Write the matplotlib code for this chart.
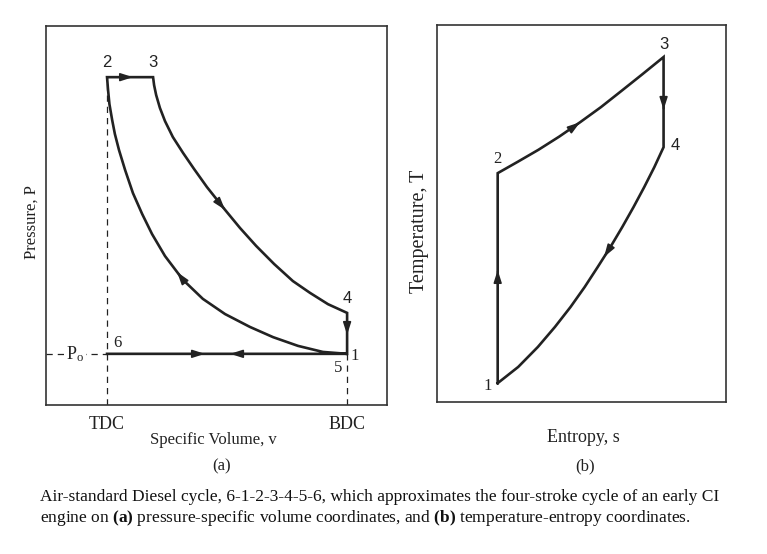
import matplotlib.pyplot as plt
import numpy as np

plt.rcParams['font.family'] = ['Liberation Serif', 'DejaVu Serif']
plt.rcParams['mathtext.fontset'] = 'custom'
plt.rcParams['mathtext.rm'] = 'Liberation Serif'
plt.rcParams['mathtext.it'] = 'Liberation Serif:italic'
plt.rcParams['mathtext.bf'] = 'Liberation Serif:bold'

INK = '#222222'

# ---- (a) pressure - specific volume, arbitrary units
v_tdc, v_bdc = 1.79, 8.83
p_high, p_o, p_4 = 8.65, 1.35, 2.43
# compression 1 -> 2
v_comp = [8.83, 8.12, 7.39, 6.66, 5.98, 5.25, 4.60, 4.02, 3.49, 3.11,
          2.82, 2.55, 2.32, 2.14, 2.02, 1.94, 1.86, 1.82, 1.79]
p_comp = [1.35, 1.40, 1.56, 1.79, 2.06, 2.40, 2.80, 3.30, 3.93, 4.51,
          5.04, 5.59, 6.20, 6.73, 7.15, 7.52, 7.94, 8.31, 8.65]
# expansion 3 -> 4
v_exp = [3.14, 3.17, 3.23, 3.34, 3.49, 3.72, 4.02, 4.34, 4.72, 5.25,
         5.69, 6.16, 6.69, 7.24, 7.74, 8.27, 8.83]
p_exp = [8.65, 8.44, 8.18, 7.84, 7.49, 7.07, 6.65, 6.23, 5.75, 5.15,
         4.67, 4.20, 3.72, 3.27, 2.96, 2.66, 2.43]

# ---- (b) temperature - entropy
s_1, T_1 = 2.10, 0.50
# 2 -> 3
s_23 = [2.10, 2.79, 3.51, 4.23, 4.95, 5.67, 6.38, 7.10, 7.84]
T_23 = [6.07, 6.37, 6.69, 7.04, 7.42, 7.82, 8.25, 8.69, 9.15]
# 4 -> 1
s_41 = [7.84, 7.52, 7.17, 6.80, 6.41, 6.00, 5.56, 5.11, 4.62, 4.08, 3.49, 2.81, 2.10]
T_41 = [6.76, 6.23, 5.70, 5.17, 4.64, 4.11, 3.58, 3.05, 2.52, 1.99, 1.46, 0.93, 0.50]

caption1 = ('Air-standard Diesel cycle, 6-1-2-3-4-5-6, which approximates '
            'the four-stroke cycle of an early CI')
caption2 = (r'engine on $\mathbf{(a)}$ pressure-specific volume coordinates, '
            r'and $\mathbf{(b)}$ temperature-entropy coordinates.')

ARROW = dict(arrowstyle='-|>,head_length=0.75,head_width=0.24', color=INK,
             lw=1.2, shrinkA=0, shrinkB=0)


def arrow_at(ax, x, y, dx, dy):
    ax.annotate('', xy=(x, y), xytext=(x - dx, y - dy), arrowprops=ARROW)


def arrow_on(ax, xs, ys, i, t=0.0):
    # arrowhead part way along segment i -> i+1, pointing along it
    dx = xs[i + 1] - xs[i]
    dy = ys[i + 1] - ys[i]
    x = xs[i] + t * dx
    y = ys[i] + t * dy
    arrow_at(ax, x, y, dx * 0.1, dy * 0.1)


def label(ax, txt, x, y, off, sans=False, **kw):
    fam = ['Liberation Sans'] if sans else ['Liberation Serif']
    ax.annotate(txt, (x, y), xytext=off, textcoords='offset pixels',
                ha='center', va='center', fontsize=12, family=fam,
                color=INK, **kw)


def frame(ax):
    ax.set_xlim(0, 10)
    ax.set_ylim(0, 10)
    for sp in ax.spines.values():
        sp.set_linewidth(1.2)
        sp.set_color('#333333')
    ax.tick_params(length=0)
    ax.set_yticks([])


fig = plt.figure(figsize=(7.67, 5.54), dpi=100)

# ------------------------------------------------------------------ (a)
ax = fig.add_axes([46 / 767, 1 - 405 / 554, 341 / 767, 379 / 554])
frame(ax)
dash = dict(color=INK, lw=0.9, ls=(0, (5, 4)))
ax.plot([v_tdc, v_tdc], [0, p_high], **dash)
ax.plot([v_bdc, v_bdc], [0, p_o], **dash)
ax.plot([0, v_tdc], [p_o, p_o], **dash)

xa = [v_tdc] + v_comp + v_exp + [v_bdc]
ya = [p_o] + p_comp + p_exp + [p_o]
ax.plot(xa, ya, color=INK, lw=1.9, solid_joinstyle='miter')

arrow_at(ax, 2.55, p_high, 0.05, 0)
arrow_on(ax, v_exp, p_exp, 9)
arrow_at(ax, v_bdc, 1.85, 0, -0.05)
arrow_on(ax, v_comp, p_comp, 7, 0.33)
arrow_at(ax, 4.66, p_o, 0.05, 0)
arrow_at(ax, 5.40, p_o, -0.05, 0)

label(ax, '2', v_tdc, p_high, (0, 15), sans=True)
label(ax, '3', v_exp[0], p_high, (0, 15), sans=True)
label(ax, '4', v_bdc, p_4, (0, 14), sans=True)
label(ax, '1', v_bdc, p_o, (8, -2))
label(ax, '5', v_bdc, p_o, (-9, -14))
label(ax, '6', v_tdc, p_o, (10, 11))
ax.text(0.85, p_o, r'P$_{\rm o}$', ha='center', va='center', fontsize=13,
        color=INK, bbox=dict(fc='white', ec='none', pad=1.5))

ax.set_xticks([v_tdc, v_bdc], ['TDC', 'BDC'], fontsize=13, color=INK)
ax.tick_params(axis='x', pad=8)
ax.set_xlabel('Specific Volume, v', fontsize=12, color=INK, va='center')
ax.xaxis.set_label_coords(0.49, -0.092)
ax.set_ylabel('Pressure, P', fontsize=12, color=INK, va='center')
ax.yaxis.set_label_coords(-0.041, 0.483)
ax.text(0.516, -0.161, '(a)', transform=ax.transAxes, ha='center',
        va='center', fontsize=12, color=INK)

# ------------------------------------------------------------------ (b)
bx = fig.add_axes([437 / 767, 1 - 402 / 554, 289 / 767, 377 / 554])
frame(bx)
bx.set_xticks([])

xb = [s_1] + s_23 + s_41
yb = [T_1] + T_23 + T_41
bx.plot(xb, yb, color=INK, lw=1.9, solid_joinstyle='miter')

arrow_at(bx, s_1, 3.50, 0, 0.05)
arrow_on(bx, s_23, T_23, 4)
arrow_at(bx, s_23[-1], 7.75, 0, -0.05)
arrow_on(bx, s_41, T_41, 5, 0.5)

label(bx, '1', s_1, T_1, (-10, -3))
label(bx, '2', s_23[0], T_23[0], (0, 14))
label(bx, '3', s_23[-1], T_23[-1], (0, 13), sans=True)
label(bx, '4', s_41[0], T_41[0], (12, 2), sans=True)

bx.set_xlabel('Entropy, s', fontsize=13, color=INK, va='center')
bx.xaxis.set_label_coords(0.505, -0.093)
bx.set_ylabel('Temperature, T', fontsize=14.5, color=INK, va='center')
bx.yaxis.set_label_coords(-0.059, 0.454)
bx.text(0.512, -0.172, '(b)', transform=bx.transAxes, ha='center',
        va='center', fontsize=12, color=INK)

# ------------------------------------------------------------------ caption
fig.text(40 / 767, 1 - 497 / 554, caption1, ha='left', va='center',
         fontsize=12.5, color='#111111')
fig.text(40 / 767, 1 - 518 / 554, caption2, ha='left', va='center',
         fontsize=12.5, color='#111111')

fig.savefig('out.png', dpi=100, facecolor='white')
